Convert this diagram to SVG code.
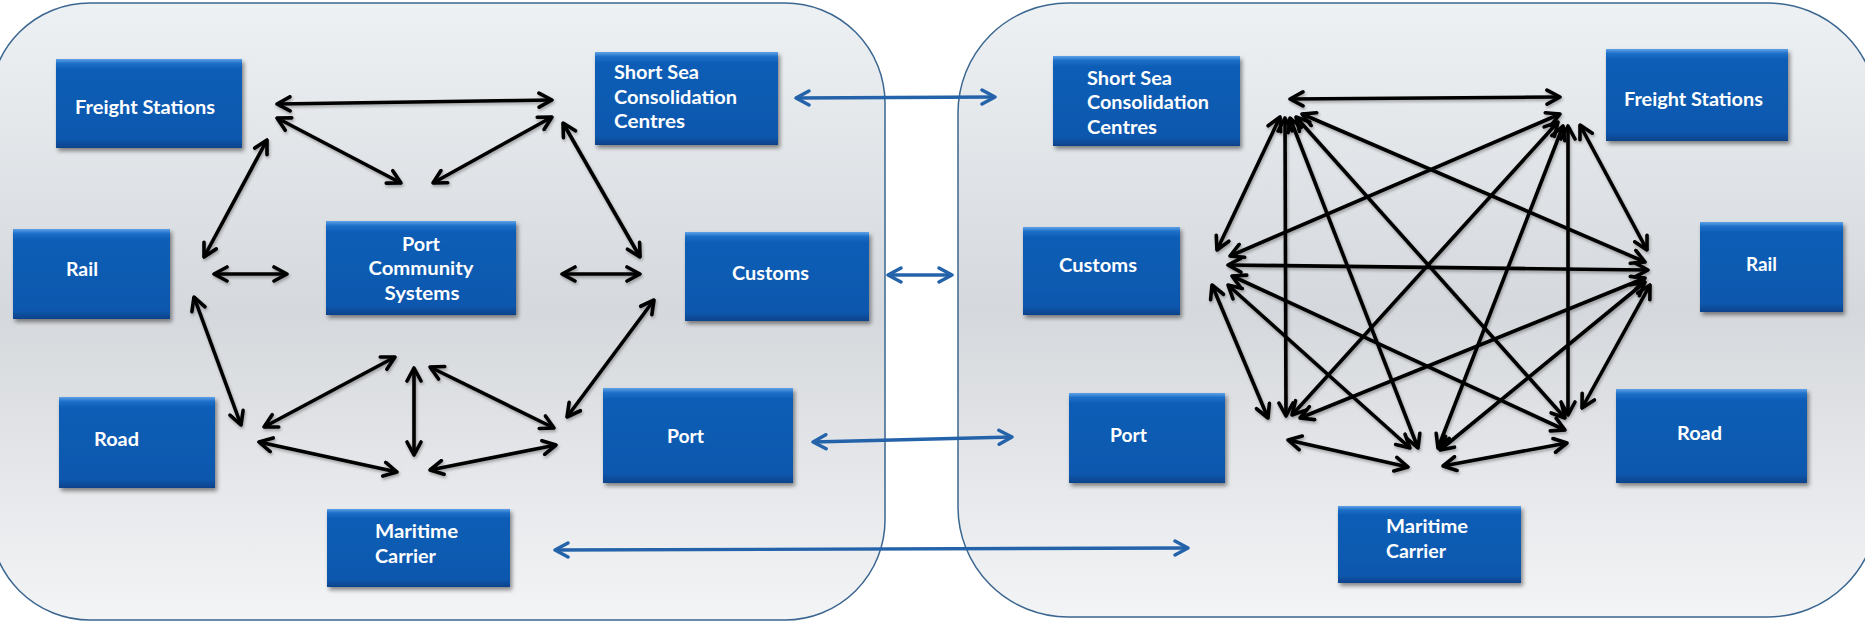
<svg xmlns="http://www.w3.org/2000/svg" width="1865" height="627" viewBox="0 0 1865 627">
<defs>
<linearGradient id="panelg" x1="0" y1="0" x2="0" y2="1">
<stop offset="0" stop-color="#eef1f4"/>
<stop offset="0.5" stop-color="#d5d8dc"/>
<stop offset="1" stop-color="#f3f4f6"/>
</linearGradient>
<linearGradient id="boxg" x1="0" y1="0" x2="0" y2="1">
<stop offset="0" stop-color="#5fa2e8"/>
<stop offset="0.05" stop-color="#1d6fc8"/>
<stop offset="0.12" stop-color="#0c5db6"/>
<stop offset="0.9" stop-color="#0a58ae"/>
<stop offset="1" stop-color="#07428a"/>
</linearGradient>
<filter id="sh" x="-10%" y="-10%" width="130%" height="140%">
<feDropShadow dx="2" dy="3" stdDeviation="2" flood-color="#000" flood-opacity="0.45"/>
</filter>
<filter id="lsh" x="-10%" y="-10%" width="130%" height="130%">
<feDropShadow dx="1" dy="2" stdDeviation="1.5" flood-color="#000" flood-opacity="0.3"/>
</filter>
<marker id="ak" viewBox="0 0 18 18" refX="16" refY="9" markerWidth="18" markerHeight="18" markerUnits="userSpaceOnUse" orient="auto-start-reverse">
<path d="M3,2 L16,9 L3,16" fill="none" stroke="#000" stroke-width="3.6" stroke-linecap="round" stroke-linejoin="round"/>
</marker>
<marker id="ab" viewBox="0 0 18 18" refX="16" refY="9" markerWidth="18" markerHeight="18" markerUnits="userSpaceOnUse" orient="auto-start-reverse">
<path d="M3,2 L16,9 L3,16" fill="none" stroke="#2463a9" stroke-width="3.4" stroke-linecap="round" stroke-linejoin="round"/>
</marker>
</defs>
<style>
.panel{fill:url(#panelg);stroke:#3b6690;stroke-width:1.5}
.box{fill:url(#boxg);filter:url(#sh)}
.t{font-family:Lato,"Open Sans","Liberation Sans",sans-serif;font-weight:bold;font-size:18px;fill:#ffffff}
.m{text-anchor:middle}
.k line{stroke:#000;stroke-width:3.6;marker-start:url(#ak);marker-end:url(#ak)}
.b line{stroke:#2463a9;stroke-width:3.4;marker-start:url(#ab);marker-end:url(#ab)}
</style>
<rect width="1865" height="627" fill="#ffffff"/>
<g id="panels">
<rect class="panel" x="-10" y="3" width="895" height="617" rx="100" ry="100"/>
<rect class="panel" x="958" y="3" width="920" height="614" rx="110" ry="110"/>
</g>

<g id="connectors">
<g class="k" filter="url(#lsh)">
<line x1="277" y1="104" x2="552" y2="100"/>
<line x1="277" y1="118" x2="401" y2="183"/>
<line x1="552" y1="117" x2="433" y2="183"/>
<line x1="267" y1="140" x2="204" y2="257"/>
<line x1="214" y1="274" x2="287" y2="274"/>
<line x1="563" y1="123" x2="640" y2="257"/>
<line x1="562" y1="274" x2="640" y2="274"/>
<line x1="194" y1="297" x2="241" y2="425"/>
<line x1="654" y1="300" x2="567" y2="417"/>
<line x1="264" y1="427" x2="395" y2="357"/>
<line x1="414" y1="368" x2="414" y2="455"/>
<line x1="430" y1="367" x2="554" y2="428"/>
<line x1="259" y1="442" x2="397" y2="472"/>
<line x1="430" y1="470" x2="556" y2="445"/>

<line x1="1290" y1="99" x2="1560" y2="97"/>
<line x1="1280" y1="117" x2="1217" y2="250"/>
<line x1="1302" y1="114" x2="1645" y2="262"/>
<line x1="1296" y1="117" x2="1565" y2="418"/>
<line x1="1290" y1="118" x2="1418" y2="448"/>
<line x1="1285" y1="118" x2="1286" y2="416"/>
<line x1="1560" y1="114" x2="1230" y2="256"/>
<line x1="1558" y1="122" x2="1292" y2="415"/>
<line x1="1563" y1="126" x2="1438" y2="448"/>
<line x1="1568" y1="126" x2="1568" y2="415"/>
<line x1="1580" y1="125" x2="1647" y2="250"/>
<line x1="1648" y1="270" x2="1228" y2="265"/>
<line x1="1645" y1="278" x2="1300" y2="418"/>
<line x1="1645" y1="282" x2="1440" y2="450"/>
<line x1="1650" y1="285" x2="1582" y2="408"/>
<line x1="1565" y1="430" x2="1232" y2="276"/>
<line x1="1228" y1="285" x2="1410" y2="448"/>
<line x1="1212" y1="285" x2="1268" y2="418"/>
<line x1="1288" y1="440" x2="1408" y2="467"/>
<line x1="1443" y1="466" x2="1567" y2="443"/>
</g>
<g class="b">
<line x1="796" y1="98" x2="995" y2="97"/>
<line x1="888" y1="275" x2="952" y2="275"/>
<line x1="813" y1="442" x2="1012" y2="437"/>
<line x1="555" y1="550" x2="1188" y2="548"/>
</g>
</g>

<g id="l-freight">
<rect class="box" x="56" y="59" width="186" height="89"/>
<text class="t" x="75" y="114" textLength="140" lengthAdjust="spacingAndGlyphs">Freight Stations</text>
</g>
<g id="l-shortsea">
<rect class="box" x="595" y="52" width="183" height="93"/>
<text class="t" x="614" y="79" textLength="85" lengthAdjust="spacingAndGlyphs">Short Sea</text>
<text class="t" x="614" y="104" textLength="123" lengthAdjust="spacingAndGlyphs">Consolidation</text>
<text class="t" x="614" y="128" textLength="71" lengthAdjust="spacingAndGlyphs">Centres</text>
</g>
<g id="l-rail">
<rect class="box" x="13" y="229" width="157" height="90"/>
<text class="t" x="66" y="276" textLength="32" lengthAdjust="spacingAndGlyphs">Rail</text>
</g>
<g id="l-pcs">
<rect class="box" x="326" y="221" width="190" height="94"/>
<text class="t m" x="421" y="251" textLength="38" lengthAdjust="spacingAndGlyphs">Port</text>
<text class="t m" x="421" y="275" textLength="105" lengthAdjust="spacingAndGlyphs">Community</text>
<text class="t m" x="422" y="300" textLength="75" lengthAdjust="spacingAndGlyphs">Systems</text>
</g>
<g id="l-customs">
<rect class="box" x="685" y="232" width="184" height="89"/>
<text class="t" x="732" y="280" textLength="77" lengthAdjust="spacingAndGlyphs">Customs</text>
</g>
<g id="l-road">
<rect class="box" x="59" y="397" width="156" height="91"/>
<text class="t" x="94" y="446" textLength="45" lengthAdjust="spacingAndGlyphs">Road</text>
</g>
<g id="l-port">
<rect class="box" x="603" y="388" width="190" height="95"/>
<text class="t" x="667" y="443" textLength="37" lengthAdjust="spacingAndGlyphs">Port</text>
</g>
<g id="l-maritime">
<rect class="box" x="327" y="509" width="183" height="78"/>
<text class="t" x="375" y="538" textLength="83" lengthAdjust="spacingAndGlyphs">Maritime</text>
<text class="t" x="375" y="563" textLength="61" lengthAdjust="spacingAndGlyphs">Carrier</text>
</g>

<g id="r-shortsea">
<rect class="box" x="1053" y="56" width="187" height="90"/>
<text class="t" x="1087" y="85" textLength="85" lengthAdjust="spacingAndGlyphs">Short Sea</text>
<text class="t" x="1087" y="109" textLength="122" lengthAdjust="spacingAndGlyphs">Consolidation</text>
<text class="t" x="1087" y="134" textLength="70" lengthAdjust="spacingAndGlyphs">Centres</text>
</g>
<g id="r-freight">
<rect class="box" x="1606" y="49" width="182" height="92"/>
<text class="t" x="1624" y="106" textLength="139" lengthAdjust="spacingAndGlyphs">Freight Stations</text>
</g>
<g id="r-customs">
<rect class="box" x="1023" y="227" width="157" height="88"/>
<text class="t" x="1059" y="272" textLength="78" lengthAdjust="spacingAndGlyphs">Customs</text>
</g>
<g id="r-rail">
<rect class="box" x="1700" y="222" width="143" height="90"/>
<text class="t" x="1746" y="271" textLength="31" lengthAdjust="spacingAndGlyphs">Rail</text>
</g>
<g id="r-port">
<rect class="box" x="1069" y="393" width="156" height="90"/>
<text class="t" x="1110" y="442" textLength="37" lengthAdjust="spacingAndGlyphs">Port</text>
</g>
<g id="r-road">
<rect class="box" x="1616" y="389" width="191" height="94"/>
<text class="t" x="1677" y="440" textLength="45" lengthAdjust="spacingAndGlyphs">Road</text>
</g>
<g id="r-maritime">
<rect class="box" x="1338" y="506" width="183" height="77"/>
<text class="t" x="1386" y="533" textLength="82" lengthAdjust="spacingAndGlyphs">Maritime</text>
<text class="t" x="1386" y="558" textLength="60" lengthAdjust="spacingAndGlyphs">Carrier</text>
</g>
</svg>
